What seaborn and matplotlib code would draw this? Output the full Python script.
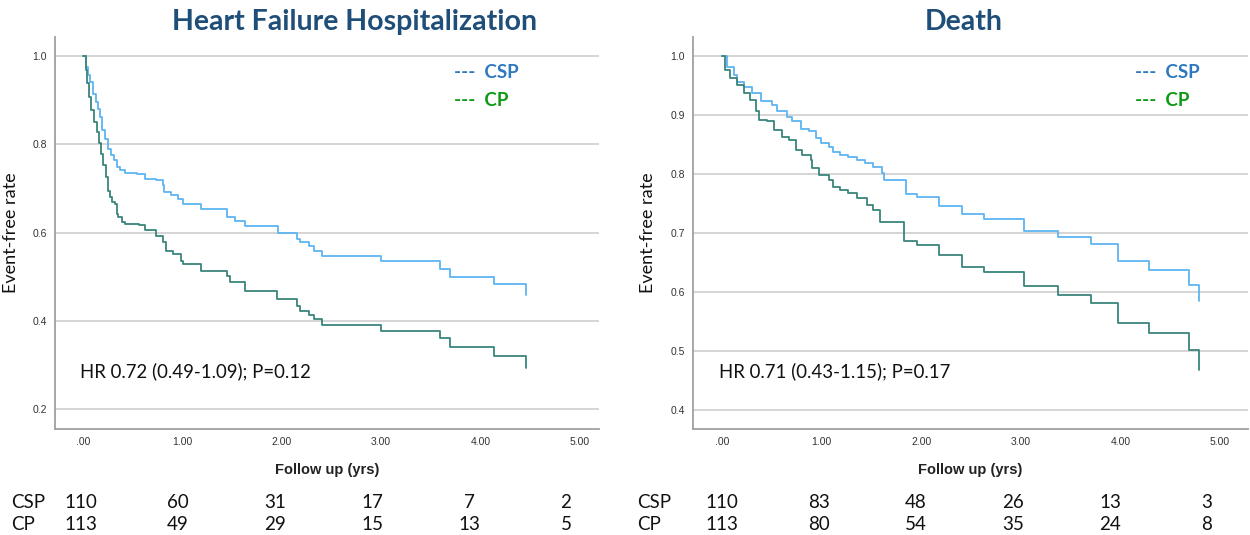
import matplotlib
matplotlib.use("Agg")
import matplotlib.pyplot as plt
import pandas as pd
import seaborn as sns

# ---------------------------------------------------------------------------
# Data (Kaplan-Meier step points)
# ---------------------------------------------------------------------------
hf_csp_t = [0, 0.013, 0.030, 0.047, 0.070, 0.104, 0.128, 0.154, 0.171, 0.194, 0.221,
            0.248, 0.282, 0.315, 0.339, 0.372, 0.42, 0.54, 0.62, 0.74, 0.81, 0.82, 0.89,
            0.96, 1.01, 1.19, 1.45, 1.53, 1.63, 1.96, 2.15, 2.18, 2.27, 2.32, 2.40, 3.00,
            3.59, 3.69, 4.13, 4.46]
hf_csp_s = [1.0, 1.0, 0.976, 0.957, 0.942, 0.915, 0.896, 0.881, 0.862, 0.832, 0.813,
            0.790, 0.775, 0.764, 0.748, 0.742, 0.735, 0.732, 0.722, 0.718, 0.707, 0.692,
            0.684, 0.677, 0.665, 0.654, 0.635, 0.627, 0.614, 0.598, 0.586, 0.578, 0.570,
            0.559, 0.548, 0.535, 0.517, 0.50, 0.483, 0.459]

hf_cp_t = [0, 0.013, 0.027, 0.040, 0.060, 0.087, 0.114, 0.138, 0.161, 0.181, 0.205,
           0.228, 0.248, 0.272, 0.295, 0.322, 0.339, 0.355, 0.389, 0.42, 0.56, 0.62,
           0.74, 0.81, 0.84, 0.91, 0.99, 1.01, 1.19, 1.45, 1.48, 1.63, 1.95, 2.15, 2.18,
           2.27, 2.32, 2.40, 3.00, 3.59, 3.69, 4.13, 4.46]
hf_cp_s = [1.0, 1.0, 0.968, 0.938, 0.908, 0.877, 0.851, 0.828, 0.802, 0.779, 0.752,
           0.726, 0.695, 0.680, 0.669, 0.665, 0.642, 0.635, 0.623, 0.620, 0.618, 0.605,
           0.593, 0.578, 0.559, 0.551, 0.536, 0.529, 0.514, 0.502, 0.487, 0.467, 0.449,
           0.434, 0.423, 0.413, 0.404, 0.391, 0.377, 0.361, 0.341, 0.320, 0.294]

d_csp_t = [0, 0.01, 0.05, 0.12, 0.15, 0.22, 0.30, 0.39, 0.50, 0.55, 0.65, 0.70, 0.79,
           0.87, 0.94, 0.99, 1.07, 1.12, 1.19, 1.27, 1.36, 1.44, 1.52, 1.61, 1.63, 1.85,
           1.96, 2.18, 2.41, 2.63, 3.03, 3.37, 3.70, 3.98, 4.29, 4.69, 4.79]
d_csp_s = [1.0, 1.0, 0.982, 0.968, 0.956, 0.948, 0.937, 0.923, 0.917, 0.906, 0.897,
           0.889, 0.877, 0.872, 0.861, 0.852, 0.846, 0.838, 0.832, 0.829, 0.824, 0.818,
           0.812, 0.801, 0.79, 0.766, 0.761, 0.746, 0.733, 0.723, 0.703, 0.693, 0.681,
           0.653, 0.637, 0.612, 0.584]

d_cp_t = [0, 0.01, 0.03, 0.08, 0.15, 0.22, 0.28, 0.34, 0.37, 0.45, 0.52, 0.60, 0.67,
          0.74, 0.80, 0.89, 0.90, 0.97, 1.07, 1.12, 1.19, 1.27, 1.36, 1.46, 1.52, 1.59,
          1.83, 1.96, 2.18, 2.41, 2.63, 3.03, 3.37, 3.70, 3.98, 4.29, 4.69, 4.79]
d_cp_s = [1.0, 1.0, 0.976, 0.962, 0.951, 0.937, 0.925, 0.906, 0.892, 0.889, 0.875,
          0.863, 0.858, 0.841, 0.832, 0.824, 0.810, 0.798, 0.790, 0.778, 0.773, 0.767,
          0.759, 0.747, 0.739, 0.719, 0.687, 0.680, 0.663, 0.643, 0.634, 0.610, 0.595,
          0.581, 0.548, 0.530, 0.502, 0.468]

groups = ["CSP", "CP"]
x_ticks = [0, 1, 2, 3, 4, 5]
x_ticklabels = [".00", "1.00", "2.00", "3.00", "4.00", "5.00"]

hf_yticks = [0.2, 0.4, 0.6, 0.8, 1.0]
d_yticks = [0.4, 0.5, 0.6, 0.7, 0.8, 0.9, 1.0]

hf_risk_csp = [110, 60, 31, 17, 7, 2]
hf_risk_cp = [113, 49, 29, 15, 13, 5]
d_risk_csp = [110, 83, 48, 26, 13, 3]
d_risk_cp = [113, 80, 54, 35, 24, 8]

hf_hr_text = "HR 0.72 (0.49-1.09); P=0.12"
d_hr_text = "HR 0.71 (0.43-1.15); P=0.17"

# ---------------------------------------------------------------------------
# Style
# ---------------------------------------------------------------------------
CURVE_COLORS = {"CSP": "#5DB5F2", "CP": "#3A857C"}
LEGEND_COLORS = {"CSP": "#2E78C0", "CP": "#0C9A12"}
TITLE_COLOR = "#1F4E79"
GRID_COLOR = "#D2D2D2"
SPINE_COLOR = "#A0A0A0"
BODY_FONT = "Lato"
AXIS_FONT = "Liberation Sans"

sns.set_style("white")
plt.rcParams["font.family"] = ["DejaVu Sans"]

W, H = 1250, 535
fig = plt.figure(figsize=(W / 100, H / 100), dpi=100)


def px_box(x0, x1, y0, y1):
    """Axes rect from pixel coordinates (top-left origin)."""
    return [x0 / W, 1 - y1 / H, (x1 - x0) / W, (y1 - y0) / H]


def make_df(csp_t, csp_s, cp_t, cp_s):
    return pd.concat([
        pd.DataFrame({"time": csp_t, "surv": csp_s, "group": "CSP"}),
        pd.DataFrame({"time": cp_t, "surv": cp_s, "group": "CP"}),
    ], ignore_index=True)


def km_panel(rect, df, yticks, xlim, ylim, title, title_x, hr_text, hr_xy, legend_x):
    ax = fig.add_axes(rect)
    sns.lineplot(data=df, x="time", y="surv", hue="group", hue_order=groups,
                 palette=CURVE_COLORS, estimator=None, sort=False,
                 drawstyle="steps-post", linewidth=1.3, legend=False, ax=ax)
    ax.set_xlim(*xlim)
    ax.set_ylim(*ylim)
    ax.set_xticks(x_ticks)
    ax.set_xticklabels(x_ticklabels, fontsize=7.5, family=AXIS_FONT, color="#333333")
    ax.set_yticks(yticks)
    ax.set_yticklabels([f"{v:.1f}" for v in yticks], fontsize=7.5,
                       family=AXIS_FONT, color="#333333")
    ax.tick_params(length=0, pad=6)
    ax.yaxis.grid(True, color=GRID_COLOR, linewidth=1.3)
    ax.set_axisbelow(True)
    for side in ["top", "right"]:
        ax.spines[side].set_visible(False)
    for side in ["left", "bottom"]:
        ax.spines[side].set_color(SPINE_COLOR)
        ax.spines[side].set_linewidth(1.3)

    ax.set_xlabel("Follow up (yrs)", fontsize=10.5, fontweight="bold",
                  family=AXIS_FONT, color="#222222")
    ax.xaxis.set_label_coords(0.5, -0.088)
    ax.set_ylabel("Event-free rate", fontsize=13, family=BODY_FONT, color="#111111")
    ax.yaxis.set_label_coords(-0.066, 0.5)

    fig.text(title_x / W, 1 - 22 / H, title, fontsize=20.5, fontweight="bold",
             family=BODY_FONT, color=TITLE_COLOR, ha="center", va="center")
    fig.text(hr_xy[0] / W, 1 - hr_xy[1] / H, hr_text, fontsize=13.4,
             family=BODY_FONT, color="#111111", ha="left", va="center")
    for g, y in zip(groups, [73, 101]):
        fig.text(legend_x / W, 1 - y / H, f"---  {g}", fontsize=13.5, fontweight="bold",
                 family=BODY_FONT, color=LEGEND_COLORS[g], ha="left", va="center")
    return ax


def risk_table(label_x, col_x0, col_dx, csp_vals, cp_vals):
    for g, vals, y in [("CSP", csp_vals, 503), ("CP", cp_vals, 524)]:
        fig.text(label_x / W, 1 - y / H, g, fontsize=13.5, family=BODY_FONT,
                 color="#111111", ha="left", va="center")
        for i, v in enumerate(vals):
            fig.text((col_x0 + i * col_dx) / W, 1 - y / H, str(v), fontsize=13.5,
                     family=BODY_FONT, color="#111111", ha="center", va="center")


# Heart failure hospitalization
km_panel(px_box(55, 599, 37, 429), make_df(hf_csp_t, hf_csp_s, hf_cp_t, hf_cp_s),
         hf_yticks, (-0.28, 5.19), (0.155, 1.043),
         "Heart Failure Hospitalization", 355, hf_hr_text, (80, 371), 454)
risk_table(11, 81, 97, hf_risk_csp, hf_risk_cp)

# Death
km_panel(px_box(693, 1248, 37, 429), make_df(d_csp_t, d_csp_s, d_cp_t, d_cp_s),
         d_yticks, (-0.29, 5.28), (0.368, 1.032),
         "Death", 964, d_hr_text, (719, 371), 1135)
risk_table(637, 722, 97, d_risk_csp, d_risk_cp)

fig.savefig("out.png", dpi=100)
